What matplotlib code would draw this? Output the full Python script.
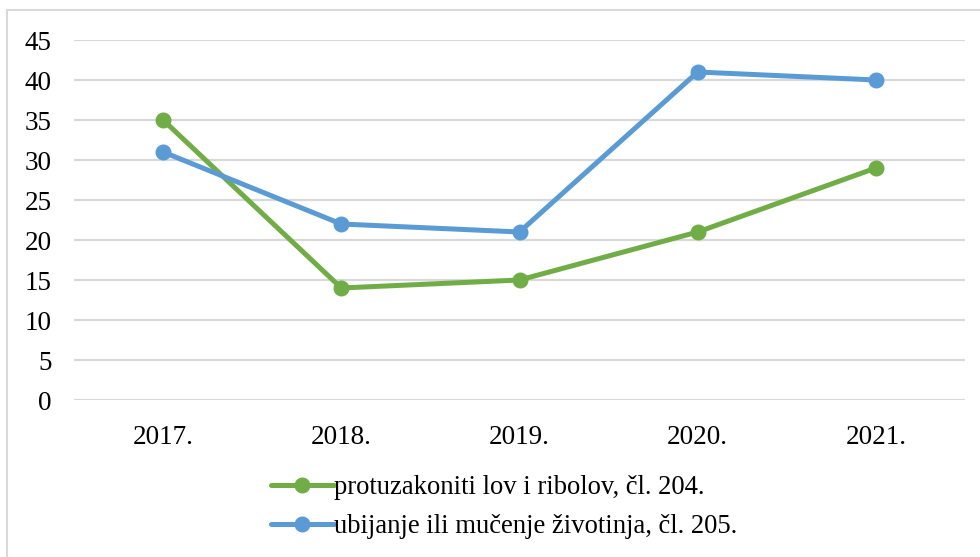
import matplotlib
matplotlib.use('Agg')
import matplotlib.pyplot as plt
from matplotlib.lines import Line2D

# Podaci
godine = ['2017.', '2018.', '2019.', '2020.', '2021.']
lov_ribolov = [35, 14, 15, 21, 29]
ubijanje_mucenje = [31, 22, 21, 41, 40]
y_ticks = [0, 5, 10, 15, 20, 25, 30, 35, 40, 45]

label_lov = 'protuzakoniti lov i ribolov, čl. 204.'
label_ubijanje = 'ubijanje ili mučenje životinja, čl. 205.'

plt.rcParams['font.family'] = ['Liberation Serif', 'DejaVu Serif']

W, H = 980, 557
fig = plt.figure(figsize=(W / 100, H / 100), dpi=100)

# okvir grafikona
fig.add_artist(Line2D([7 / W, 1], [1 - 10 / H, 1 - 10 / H], color='#d9d9d9', lw=1.5))
fig.add_artist(Line2D([7 / W, 7 / W], [0, 1 - 10 / H], color='#d9d9d9', lw=1.5))

ax = fig.add_axes([74 / W, (H - 400) / H, (965 - 74) / W, 360 / H])

x = list(range(len(godine)))
ax.plot(x, lov_ribolov, color='#70ad47', lw=3.6, marker='o', ms=10.5,
        solid_capstyle='round', label=label_lov, zorder=3)
ax.plot(x, ubijanje_mucenje, color='#5b9bd5', lw=3.6, marker='o', ms=10.5,
        solid_capstyle='round', label=label_ubijanje, zorder=3)

ax.set_xlim(-0.5, len(godine) - 0.5)
ax.set_ylim(0, 45)
ax.set_yticks(y_ticks)
ax.set_xticks(x)
ax.set_xticklabels(godine)
ax.yaxis.grid(True, color='#d9d9d9', lw=1.6)
ax.set_axisbelow(True)
for s in ax.spines.values():
    s.set_visible(False)
ax.tick_params(axis='both', length=0, labelsize=19.5, colors='#000000')
ax.tick_params(axis='y', pad=16)
ax.tick_params(axis='x', pad=18)

fig.legend(loc='upper left', bbox_to_anchor=(271 / W, 1 - 475 / H),
           frameon=False, fontsize=19.2, handlelength=2.35, handletextpad=0.0,
           labelspacing=0.52, borderpad=0, borderaxespad=0)

fig.savefig('out.png', dpi=100, facecolor='white')
